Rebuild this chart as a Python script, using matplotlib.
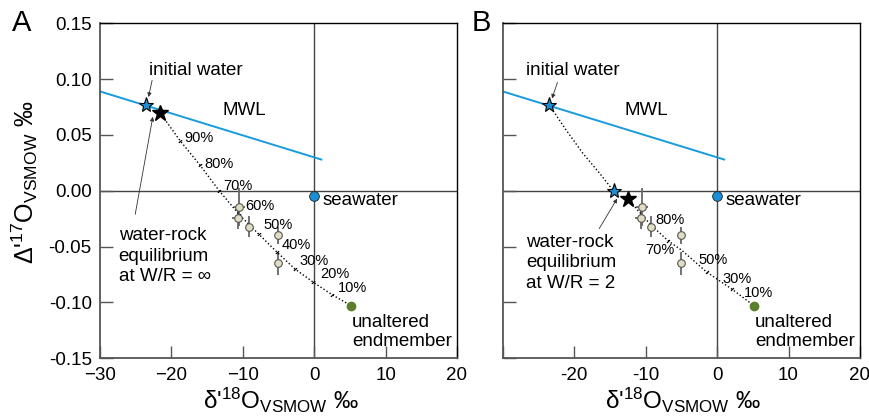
import matplotlib
matplotlib.use('Agg')
import matplotlib.pyplot as plt
from matplotlib.ticker import FormatStrFormatter

plt.rcParams['font.family'] = ['Liberation Sans', 'DejaVu Sans']
plt.rcParams['mathtext.fontset'] = 'custom'
plt.rcParams['mathtext.rm'] = 'Liberation Sans'
plt.rcParams['mathtext.it'] = 'Liberation Sans:italic'
plt.rcParams['mathtext.bf'] = 'Liberation Sans:bold'

# ---------------- data ----------------
mwl_x = [-30.0, 1.0]
mwl_y = [0.089, 0.028]

initial_water = (-23.5, 0.077)
seawater = (0.0, -0.005)
unaltered = (5.2, -0.103)

samples_x = [-10.5, -10.7, -9.2, -5.0, -5.0]
samples_y = [-0.0145, -0.024, -0.032, -0.040, -0.065]
samples_xerr = [0.8, 0.75, 0.0, 0.0, 0.0]
samples_yerr = [0.017, 0.010, 0.009, 0.008, 0.0105]

# Panel A (W/R = infinity)
eqA = (-21.6, 0.070)
curveA_x = [-21.6, -18.8, -16.0, -13.3, -10.4, -9.0, -5.2, -2.7, -0.1, 2.5, 5.2]
curveA_y = [0.070, 0.045, 0.023, 0.000, -0.022, -0.031, -0.055, -0.070, -0.082, -0.093, -0.103]
tickA_x = [-18.8, -16.0, -13.3, -10.5, -7.8, -5.2, -2.7, -0.1, 2.5]
tickA_y = [0.045, 0.023, 0.000, -0.022, -0.0386, -0.055, -0.070, -0.082, -0.093]
pctA_labels = ['90%', '80%', '70%', '60%', '50%', '40%', '30%', '20%', '10%']
pctA_x = [-18.2, -15.4, -12.8, -9.66, -7.1, -4.5, -2.06, 0.84, 3.27]
pctA_y = [0.047, 0.0237, 0.004, -0.0136, -0.031, -0.0488, -0.063, -0.0748, -0.0874]

# Panel B (W/R = 2)
eqB_blue = (-14.45, -0.0005)
eqB_black = (-12.5, -0.0073)
curveB1_x = [-23.5, -21.1, -18.75, -16.4, -14.45]
curveB1_y = [0.077, 0.0542, 0.0333, 0.0154, -0.0005]
curveB2_x = [-12.5, -9.2, -6.8, -5.0, -1.45, 2.06, 5.2]
curveB2_y = [-0.0073, -0.031, -0.045, -0.053, -0.0728, -0.088, -0.103]
tickB_x = [-9.2, -6.8, -1.45, 2.06]
tickB_y = [-0.031, -0.045, -0.0728, -0.088]
pctB_labels = ['80%', '70%', '50%', '30%', '10%']
pctB_x = [-8.7, -10.0, -2.62, 0.8, 3.8]
pctB_y = [-0.026, -0.0533, -0.0623, -0.0787, -0.0916]

x_ticks = [-30, -20, -10, 0, 10, 20]
y_ticks = [-0.15, -0.10, -0.05, 0.00, 0.05, 0.10, 0.15]

# ---------------- style ----------------
BLUE_LINE = '#1a9bdb'
BLUE_FILL = '#1a8fd6'
BEIGE = '#e2ddc2'
GREEN = '#5b7f2b'
GRAY = '#555555'
ANN = 13.5
PCT = 10.5

W, H = 870, 420
fig = plt.figure(figsize=(W / 100, H / 100), dpi=100)
axA = fig.add_axes([100 / W, 61.7 / H, 357 / W, 335 / H])
axB = fig.add_axes([502.7 / W, 61.7 / H, 357.3 / W, 335 / H])


def common(ax, wr_text, wr_pos, arrow_from, arrow_to, iw_text_pos, iw_from, iw_to):
    ax.set_xlim(-30, 20)
    ax.set_ylim(-0.15, 0.15)
    ax.axhline(0, color='#444444', lw=1.0, zorder=1)
    ax.axvline(0, color='#444444', lw=1.0, zorder=1)
    ax.plot(mwl_x, mwl_y, color=BLUE_LINE, lw=1.4, zorder=2)
    ax.errorbar(samples_x, samples_y, xerr=samples_xerr, yerr=samples_yerr,
                fmt='none', ecolor='#666666', elinewidth=1.3, capsize=0, zorder=3)
    ax.plot(samples_x, samples_y, 'o', ms=5.5, mfc=BEIGE, mec='#555555', mew=0.8, zorder=5)
    ax.plot(*seawater, 'o', ms=7, mfc=BLUE_FILL, mec='#222222', mew=0.6, zorder=6)
    ax.plot(*unaltered, 'o', ms=6, mfc=GREEN, mec=GREEN, zorder=6)
    ax.plot(*initial_water, '*', ms=11, mfc=BLUE_FILL, mec='black', mew=0.8, zorder=7)

    ax.text(-12.9, 0.0721, 'MWL', fontsize=ANN, ha='left', va='center')
    ax.text(1.2, -0.0085, 'seawater', fontsize=ANN, ha='left', va='center')
    ax.text(5.3, -0.1265, 'unaltered\nendmember', fontsize=ANN, ha='left', va='center',
            linespacing=1.12)
    ax.text(iw_text_pos[0], iw_text_pos[1], 'initial water', fontsize=ANN, ha='left', va='center')
    ax.annotate('', xy=iw_to, xytext=iw_from,
                arrowprops=dict(arrowstyle='-|>', lw=0.6, color='#333333', mutation_scale=6,
                                shrinkA=0, shrinkB=0))
    ax.text(wr_pos[0], wr_pos[1], wr_text, fontsize=ANN, ha='left', va='center', linespacing=1.28)
    ax.annotate('', xy=arrow_to, xytext=arrow_from,
                arrowprops=dict(arrowstyle='-|>', lw=0.6, color='#333333', mutation_scale=6,
                                shrinkA=0, shrinkB=0))

    for side in ('left', 'bottom'):
        ax.spines[side].set_color(GRAY)
        ax.spines[side].set_linewidth(1.3)
    for side in ('top', 'right'):
        ax.spines[side].set_color('black')
        ax.spines[side].set_linewidth(1.0)
    ax.set_xticks(x_ticks)
    ax.set_yticks(y_ticks)
    ax.tick_params(direction='in', length=9, width=1.0, color=GRAY, labelsize=13.5, pad=6)


# Panel A
common(axA, 'water-rock\nequilibrium\nat W/R = ∞', (-27.4, -0.0585),
       (-25.07, -0.0211), (-22.6, 0.0663), (-23.07, 0.1073),
       (-22.7, 0.099), (-23.2, 0.084))
axA.plot(curveA_x, curveA_y, color='black', lw=1.0, ls=(0, (1, 1.6)), zorder=4)
axA.plot(tickA_x, tickA_y, ls='none', marker=(2, 2, -50), ms=3, mec='black', mew=0.6, zorder=4)
axA.plot(*eqA, '*', ms=12, mfc='black', mec='black', zorder=7)
for lab, x, y in zip(pctA_labels, pctA_x, pctA_y):
    axA.text(x, y, lab, fontsize=PCT, ha='left', va='center', zorder=8)
axA.yaxis.set_major_formatter(FormatStrFormatter('%.2f'))

# Panel B
common(axB, 'water-rock\nequilibrium\nat W/R = 2', (-26.7, -0.0645),
       (-16.5, -0.0339), (-13.98, -0.007), (-26.8, 0.1073),
       (-22.34, 0.097), (-23.1, 0.0826))
axB.plot(curveB1_x, curveB1_y, color='black', lw=1.0, ls=(0, (1, 1.6)), zorder=4)
axB.plot(curveB2_x, curveB2_y, color='black', lw=1.0, ls=(0, (1, 1.6)), zorder=4)
axB.plot(tickB_x, tickB_y, ls='none', marker=(2, 2, -45), ms=3, mec='black', mew=0.6, zorder=4)
axB.plot(*eqB_blue, '*', ms=11, mfc=BLUE_FILL, mec='black', mew=0.8, zorder=7)
axB.plot(*eqB_black, '*', ms=12, mfc='black', mec='black', zorder=7)
for lab, x, y in zip(pctB_labels, pctB_x, pctB_y):
    axB.text(x, y, lab, fontsize=PCT, ha='left', va='center', zorder=8)
axB.set_xticklabels(['' if t == -30 else str(t) for t in x_ticks])
axB.set_yticklabels([])

# axis labels and panel letters
ylab = "Δ'$^{\\mathregular{17}}$O$_{\\mathregular{VSMOW}}$ ‰"
xlab = "δ'$^{\\mathregular{18}}$O$_{\\mathregular{VSMOW}}$ ‰"
fig.text(25 / W, 1 - 182 / H, ylab, rotation=90, fontsize=18, ha='center', va='center')
fig.text(281 / W, 1 - 400 / H, xlab, fontsize=17.5, ha='center', va='center')
fig.text(683 / W, 1 - 400 / H, xlab, fontsize=17.5, ha='center', va='center')
fig.text(12 / W, 1 - 23 / H, 'A', fontsize=21, ha='left', va='center')
fig.text(472 / W, 1 - 23 / H, 'B', fontsize=21, ha='left', va='center')

fig.savefig('out.png', dpi=100)
